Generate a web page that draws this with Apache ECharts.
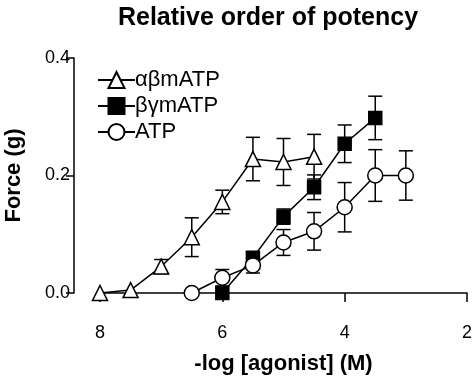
<!DOCTYPE html>
<html>
<head>
<meta charset="utf-8">
<script src="https://cdn.jsdelivr.net/npm/echarts@6/dist/echarts.min.js"></script>
<style>
  html, body { margin: 0; padding: 0; background: #fff; }
  #chart { width: 473px; height: 382px; }
</style>
</head>
<body>
<div id="chart"></div>
<script>
// -log concentrations and mean force (g) +/- SEM
var seriesNames = ["αβmATP", "βγmATP", "ATP"];

var abX = [8, 7.5, 7, 6.5, 6, 5.5, 5, 4.5];
var abMean = [0.0, 0.005, 0.045, 0.095, 0.155, 0.228, 0.223, 0.232];
var abSem = [0, 0, 0.012, 0.033, 0.02, 0.037, 0.04, 0.038];

var bgX = [6, 5.5, 5, 4.5, 4, 3.5];
var bgMean = [0.0, 0.06, 0.13, 0.18, 0.254, 0.298];
var bgSem = [0, 0.01, 0.013, 0.021, 0.032, 0.037];

var atpX = [6.5, 6, 5.5, 5, 4.5, 4, 3.5, 3];
var atpMean = [0.0, 0.026, 0.047, 0.086, 0.105, 0.146, 0.2, 0.2];
var atpSem = [0, 0.014, 0.013, 0.022, 0.032, 0.042, 0.044, 0.042];

var xTicks = [8, 6, 4, 2];
var yTicks = [0.0, 0.2, 0.4];

var font = "Liberation Sans";

function pairs(xs, ys) {
  return xs.map(function (x, i) { return [x, ys[i]]; });
}
function errRows(xs, ys, es) {
  return xs.map(function (x, i) { return [x, ys[i], es[i]]; });
}

// vertical error bar with caps
function renderErr(params, api) {
  var x = api.value(0), m = api.value(1), e = api.value(2);
  if (!e) return null;
  var top = api.coord([x, m + e]);
  var bot = api.coord([x, m - e]);
  var w = 7;
  var st = { stroke: "#000", lineWidth: 1.5 };
  return {
    type: "group",
    children: [
      { type: "line", shape: { x1: top[0], y1: top[1], x2: bot[0], y2: bot[1] }, style: st },
      { type: "line", shape: { x1: top[0] - w, y1: top[1], x2: top[0] + w, y2: top[1] }, style: st },
      { type: "line", shape: { x1: bot[0] - w, y1: bot[1], x2: bot[0] + w, y2: bot[1] }, style: st }
    ]
  };
}

function errSeries(xs, ys, es) {
  return {
    type: "custom",
    renderItem: renderErr,
    data: errRows(xs, ys, es),
    clip: false,
    silent: true,
    z: 1
  };
}

function lineSeries(name, xs, ys, symbol, size, fill) {
  return {
    name: name,
    type: "line",
    data: pairs(xs, ys),
    symbol: symbol,
    symbolSize: size,
    showAllSymbol: true,
    lineStyle: { color: "#000", width: 1.5 },
    itemStyle: { color: fill, borderColor: "#000", borderWidth: 1.5 },
    z: 3
  };
}

var tickRich = { t: { fontFamily: font, fontSize: 18, color: "#000" } };

var chart = echarts.init(document.getElementById("chart"));

var option = {
  backgroundColor: "#fff",
  animation: false,
  textStyle: { fontFamily: font, color: "#000" },
  title: {
    text: "Relative order of potency",
    left: 263,
    textAlign: "center",
    top: 1,
    textStyle: { fontFamily: font, fontSize: 25, fontWeight: "bold", color: "#000" }
  },
  legend: {
    data: seriesNames,
    orient: "vertical",
    left: 92,
    top: 64,
    itemWidth: 37,
    itemHeight: 20,
    itemGap: 4,
    textStyle: { fontFamily: font, fontSize: 22, color: "#000", padding: [0, 0, 0, -5] }
  },
  grid: { left: 100, right: 6, top: 58, bottom: 89, outerBoundsMode: "none" },
  xAxis: {
    type: "value",
    min: 2,
    max: 8,
    interval: 2,
    inverse: true,
    offset: 28,
    name: "-log [agonist] (M)",
    nameLocation: "middle",
    nameGap: 32,
    nameTextStyle: { fontFamily: font, fontSize: 22, fontWeight: "bold", color: "#000" },
    axisLine: { lineStyle: { color: "#000", width: 1.5 } },
    axisTick: { length: 9, lineStyle: { color: "#000", width: 1.5 } },
    axisLabel: {
      fontSize: 18, margin: 3, rich: tickRich,
      formatter: function (v) { return xTicks.indexOf(v) >= 0 ? "{t|" + v + "}" : ""; }
    },
    splitLine: { show: false }
  },
  yAxis: {
    type: "value",
    min: 0,
    max: 0.4,
    interval: 0.2,
    offset: 26,
    name: "Force (g)",
    nameLocation: "middle",
    nameGap: 49,
    nameRotate: 90,
    nameTextStyle: { fontFamily: font, fontSize: 22, fontWeight: "bold", color: "#000" },
    axisLine: { show: true, lineStyle: { color: "#000", width: 1.5 } },
    axisTick: { show: true, length: 8, lineStyle: { color: "#000", width: 1.5 } },
    axisLabel: {
      fontSize: 18, margin: 4, rich: tickRich,
      formatter: function (v) { return "{t|" + v.toFixed(1) + "}"; }
    },
    splitLine: { show: false }
  },
  series: [
    errSeries(abX, abMean, abSem),
    errSeries(bgX, bgMean, bgSem),
    errSeries(atpX, atpMean, atpSem),
    lineSeries(seriesNames[0], abX, abMean, "triangle", 15, "#fff"),
    lineSeries(seriesNames[1], bgX, bgMean, "rect", 13, "#000"),
    lineSeries(seriesNames[2], atpX, atpMean, "circle", 15, "#fff")
  ]
};

chart.setOption(option);
</script>
</body>
</html>
